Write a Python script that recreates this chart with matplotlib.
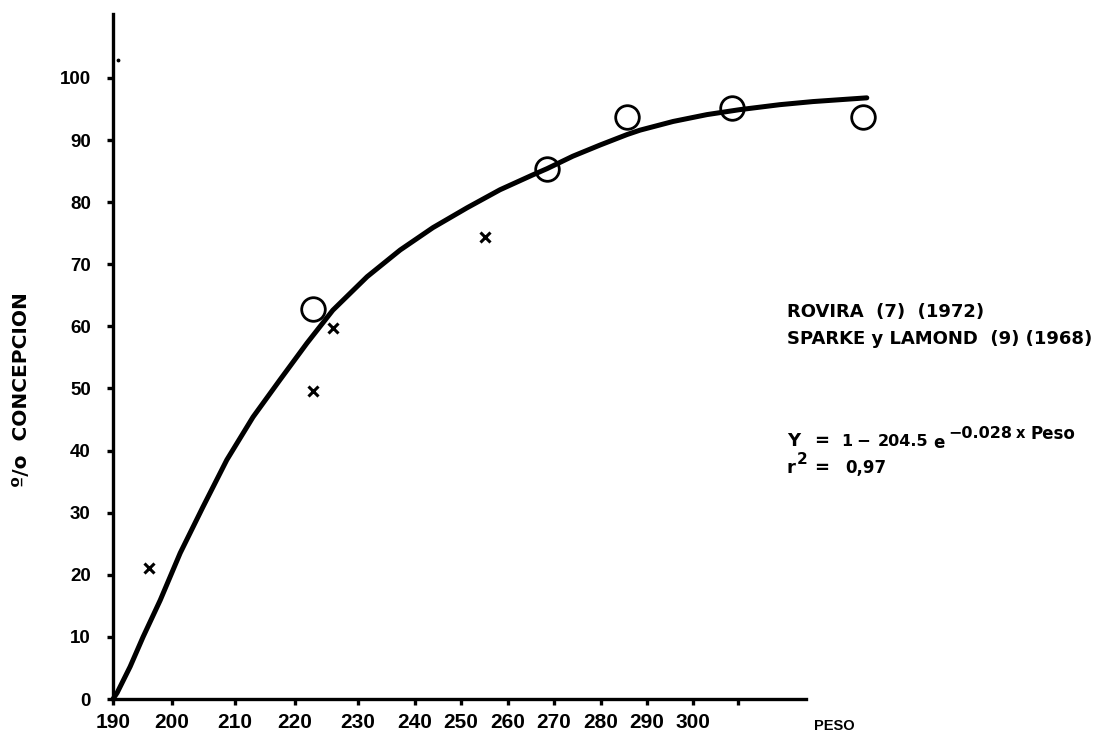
import numpy as np
import matplotlib
matplotlib.use('Agg')
import matplotlib.pyplot as plt

# ---- data -----------------------------------------------------------
# x axis ticks (weight) and where they sit along the drawn axis
tick_peso = [190, 200, 210, 220, 230, 240, 250, 260, 270, 280, 290, 300, 310]
tick_pos  = [113, 172, 235, 295, 358, 415, 461, 508, 554, 601, 647, 693, 738]
tick_lbl  = ['190', '200', '210', '220', '230', '240', '250', '260', '270',
             '280', '290', '300', '']

# ROVIRA (7) (1972) - circles
rov_peso = [222.9, 268.5, 285.7, 308.7, 337.2]
rov_conc = [62.8, 85.3, 93.7, 95.2, 93.7]

# SPARKE y LAMOND (9) (1968) - crosses
spa_peso = [196.1, 222.9, 226.0, 255.2]
spa_conc = [21.1, 49.6, 59.7, 74.4]

# fitted curve, read along its length
fit_peso = [190.0, 190.7, 192.9, 195.1, 198.0, 201.3, 204.9, 208.7, 213.0,
            217.5, 221.9, 226.0, 231.6, 237.4, 243.9, 251.3, 258.3, 265.4,
            268.5, 274.0, 279.8, 285.7, 288.5, 295.7, 303.1, 310.4, 319.1,
            326.3, 338.0]
fit_conc = [0.0, 1.0, 5.2, 10.0, 15.9, 23.5, 30.9, 38.5, 45.4,
            51.4, 57.3, 62.6, 68.0, 72.3, 75.9, 79.1, 82.0, 84.4,
            85.4, 87.4, 89.2, 90.9, 91.6, 93.0, 94.1, 94.9, 95.7,
            96.2, 96.8]

# ---- non-uniform x scale ----------------------------------------------
map_peso = np.array(tick_peso + [345.0])
map_pos = np.array(tick_pos + [899.0], dtype=float)

def fwd(w):
    return np.interp(w, map_peso, map_pos)

def inv(p):
    return np.interp(p, map_pos, map_peso)

LIB = ['Liberation Sans', 'DejaVu Sans']
DJV = ['DejaVu Sans']
plt.rcParams['font.family'] = LIB
plt.rcParams['font.weight'] = 'bold'

W, H = 1104, 735
fig = plt.figure(figsize=(W / 100, H / 100), dpi=100)
ax = fig.add_axes([113 / W, (H - 699) / H, (876 - 113) / W, (699 - 14) / H])
ax.set_xscale('function', functions=(fwd, inv))
ax.set_xlim(190, 340)
ax.set_ylim(0, 110.3)

ax.plot(fit_peso, fit_conc, '-', color='black', lw=3.6,
        solid_capstyle='round', solid_joinstyle='round', clip_on=False, zorder=3)
ax.plot(rov_peso, rov_conc, 'o', ms=17, mfc='none', mec='black', mew=2.0,
        clip_on=False, zorder=4)
ax.plot(spa_peso, spa_conc, 'x', ms=7.5, color='black', mew=2.2,
        clip_on=False, zorder=4)
ax.plot([190.85], [102.9], '.', ms=3.5, color='black')

# ---- axes --------------------------------------------------------------
for s in ['top', 'right']:
    ax.spines[s].set_visible(False)
for s in ['left', 'bottom']:
    ax.spines[s].set_linewidth(2.4)
ax.spines['bottom'].set_bounds(190, inv(806))

ax.set_xticks(tick_peso)
ax.set_xticklabels(tick_lbl)
ax.set_yticks(np.arange(0, 101, 10))
ax.tick_params(axis='both', direction='out', length=4, width=2.4)
ax.tick_params(axis='y', labelsize=13.5, pad=12)
ax.tick_params(axis='x', labelsize=15, pad=6)
for t in ax.get_xticklabels() + ax.get_yticklabels():
    t.set_fontweight('bold')

fig.text(22 / W, 1 - 390 / H, '\u00ba/o  CONCEPCION', rotation=90,
         ha='center', va='center', fontsize=14.5, fontweight='bold',
         family=DJV)
fig.text(834 / W, 1 - 726 / H, 'PESO', ha='center', va='center',
         fontsize=10.5, fontweight='bold')

# ---- legend and fit text ----------------------------------------------
fig.text(787 / W, 1 - 312 / H, 'ROVIRA  (7)  (1972)', ha='left', va='center',
         fontsize=13, fontweight='bold', family=DJV)
fig.text(787 / W, 1 - 339 / H, 'SPARKE y LAMOND  (9) (1968)', ha='left',
         va='center', fontsize=13, fontweight='bold', family=DJV)

# equation pieces: text, left x, centre y, size (pixels from top-left)
eq_parts = [('Y', 787, 441, 13), ('=', 814, 441, 13), ('1', 841, 441, 11.5),
            ('\u2212', 856, 440, 12), ('204.5', 878, 441, 11.5),
            ('e', 933, 443, 12), ('\u22120.028', 948, 433, 11.5),
            ('x', 1016, 434, 10.5), ('Peso', 1031, 434, 12),
            ('r', 787, 468, 13), ('2', 797, 460, 11),
            ('=', 814, 468, 13), ('0,97', 845, 468, 12)]
for s, px, py, fs in eq_parts:
    fig.text(px / W, 1 - py / H, s, ha='left', va='center', fontsize=fs,
             fontweight='bold', family=DJV)

fig.savefig('out.png', dpi=100, facecolor='white')
